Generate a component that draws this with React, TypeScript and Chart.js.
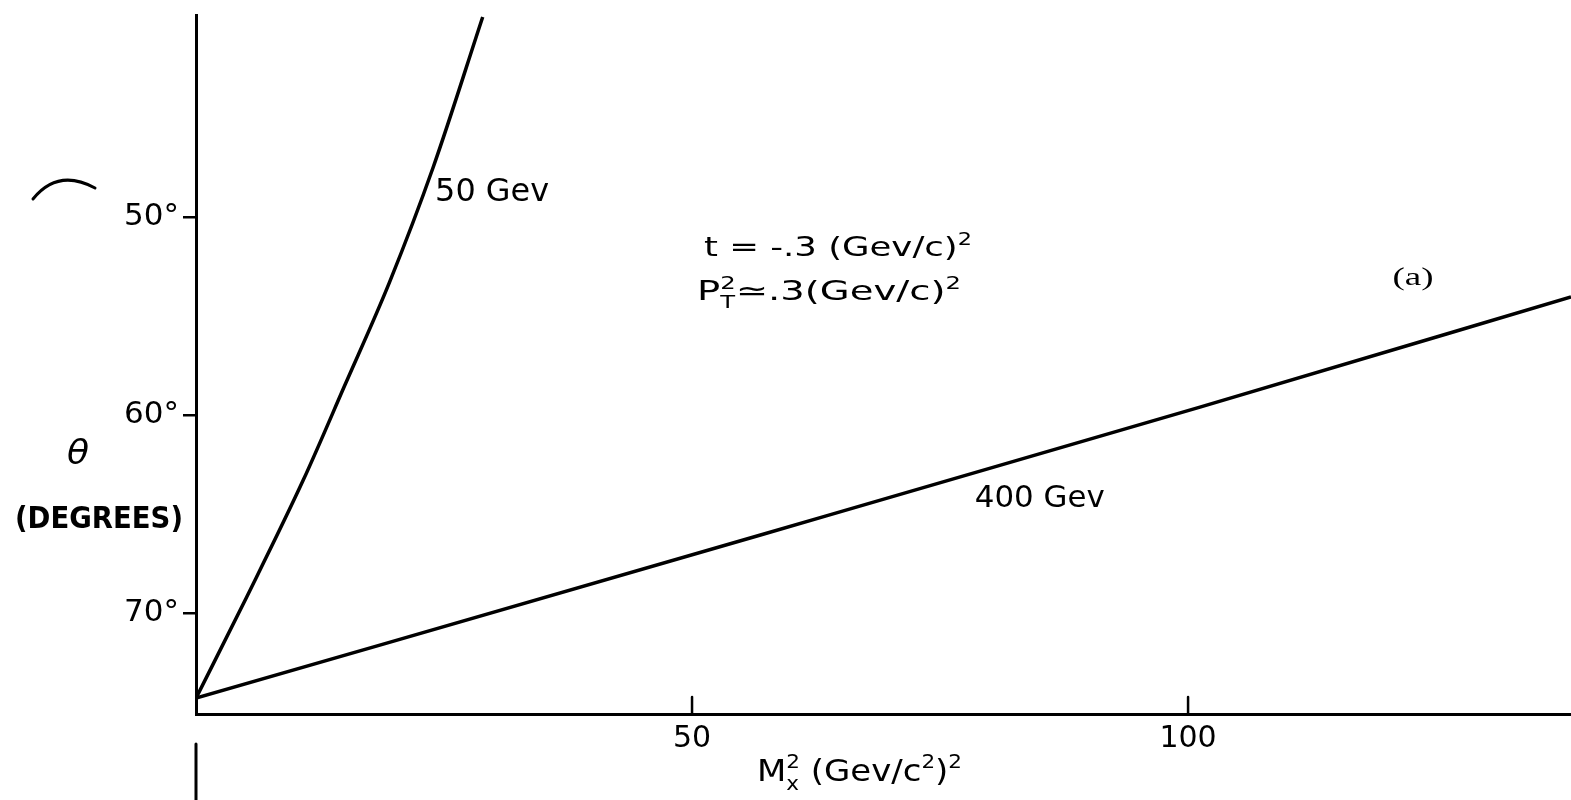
import { useEffect, useRef } from 'react';
import { Chart, registerables } from 'chart.js';

Chart.register(...registerables);

const FAMILY = '"DejaVu Sans", "Liberation Sans", sans-serif';

// 50 GeV curve: M_x^2 (GeV/c^2)^2 vs theta (degrees)
const massSq50 = [0, 5.1, 10.8, 15.0, 19.5, 23.9, 28.9];
const theta50 = [74.3, 69.2, 63.3, 58.5, 53.3, 47.5, 39.9];

// 400 GeV curve
const massSq400 = [0, 56.9, 101.2, 138.6];
const theta400 = [74.3, 66.06, 59.6, 54.04];

const xTickValues = [50, 100];
const yTickValues = [50, 60, 70];
const xMin = 0;
const xMax = 138.6;
const thetaTop = 39.8;
const thetaBottom = 75.1;

type Part = { t: string; kind?: 'sub' | 'sup'; stay?: boolean };

type Note = {
  parts: Part[];
  x: number; // data x (left edge)
  y: number; // data theta (vertical centre)
  size: number;
  width: number;
  family?: string;
  weight?: string;
  style?: string;
};

const notes: Note[] = [
  { parts: [{ t: '50 Gev' }], x: 24.1, y: 48.6, size: 32, width: 114 },
  { parts: [{ t: '400 Gev' }], x: 78.5, y: 64.1, size: 31, width: 130 },
  {
    parts: [{ t: 't = -.3 (Gev/c)' }, { t: '2', kind: 'sup' }],
    x: 51.2, y: 51.5, size: 27, width: 268,
  },
  {
    parts: [
      { t: 'P' },
      { t: 'T', kind: 'sub', stay: true },
      { t: '2', kind: 'sup' },
      { t: '\u2243.3(Gev/c)' },
      { t: '2', kind: 'sup' },
    ],
    x: 50.5, y: 53.7, size: 27, width: 264,
  },
  {
    parts: [{ t: '(a)' }], x: 120.6, y: 52.95, size: 26, width: 41,
    family: '"Liberation Serif", "DejaVu Serif", serif',
  },
];

function drawRich(
  ctx: CanvasRenderingContext2D,
  parts: Part[],
  left: number,
  centerY: number,
  size: number,
  targetWidth: number,
  family: string = FAMILY,
  weight: string = 'normal',
  style: string = 'normal'
) {
  const fontFor = (p: Part) =>
    `${style} ${weight} ${p.kind ? Math.round(size * 0.62) : size}px ${family}`;
  let natural = 0;
  const advs: number[] = [];
  for (const p of parts) {
    ctx.font = fontFor(p);
    const w = ctx.measureText(p.t).width;
    advs.push(w);
    if (!p.stay) natural += w;
  }
  const sx = targetWidth ? targetWidth / natural : 1;
  ctx.save();
  ctx.translate(left, centerY + size * 0.36);
  ctx.scale(sx, 1);
  ctx.textBaseline = 'alphabetic';
  ctx.textAlign = 'left';
  ctx.fillStyle = '#000';
  let x = 0;
  parts.forEach((p, i) => {
    ctx.font = fontFor(p);
    const dy = p.kind === 'sup' ? -size * 0.42 : p.kind === 'sub' ? size * 0.3 : 0;
    ctx.fillText(p.t, x, dy);
    if (!p.stay) x += advs[i];
  });
  ctx.restore();
}

const decorPlugin = {
  id: 'decor',
  afterDraw(chart: any) {
    const ctx: CanvasRenderingContext2D = chart.ctx;
    const xs = chart.scales.x;
    const ys = chart.scales.y;
    const area = chart.chartArea;
    ctx.save();
    ctx.strokeStyle = '#000';
    ctx.lineCap = 'round';

    // upward tick marks on the x axis
    ctx.lineWidth = 2.5;
    for (const v of xTickValues) {
      const px = xs.getPixelForValue(v);
      ctx.beginPath();
      ctx.moveTo(px, area.bottom);
      ctx.lineTo(px, area.bottom - 17);
      ctx.stroke();
    }

    // scan fragments: arc at left and segment below the axis
    ctx.lineWidth = 3;
    ctx.beginPath();
    ctx.moveTo(33, 199);
    ctx.quadraticCurveTo(58, 168, 95, 188);
    ctx.stroke();
    const x0 = xs.getPixelForValue(0);
    ctx.beginPath();
    ctx.moveTo(x0, 744);
    ctx.lineTo(x0, 800);
    ctx.stroke();

    // annotations
    for (const n of notes) {
      drawRich(
        ctx,
        n.parts,
        xs.getPixelForValue(n.x),
        ys.getPixelForValue(n.y),
        n.size,
        n.width,
        n.family,
        n.weight,
        n.style
      );
    }

    // y axis title
    drawRich(ctx, [{ t: '\u03b8' }], 67, 452, 34, 22, FAMILY, 'normal', 'italic');
    drawRich(ctx, [{ t: '(DEGREES)' }], 15, 517, 31, 168, FAMILY, 'bold');

    // x axis title
    drawRich(
      ctx,
      [
        { t: 'M' },
        { t: 'x', kind: 'sub', stay: true },
        { t: '2', kind: 'sup' },
        { t: ' (Gev/c' },
        { t: '2', kind: 'sup' },
        { t: ')' },
        { t: '2', kind: 'sup' },
      ],
      757,
      770,
      30,
      205
    );
    ctx.restore();
  },
};

export default function App() {
  const ref = useRef<HTMLCanvasElement | null>(null);

  useEffect(() => {
    if (!ref.current) return;
    const chart = new Chart(ref.current, {
      type: 'scatter',
      data: {
        datasets: [
          {
            label: '50 Gev',
            data: massSq50.map((x, i) => ({ x, y: theta50[i] })),
            showLine: true,
            borderColor: '#000',
            borderWidth: 3.5,
            pointRadius: 0,
            cubicInterpolationMode: 'monotone',
          },
          {
            label: '400 Gev',
            data: massSq400.map((x, i) => ({ x, y: theta400[i] })),
            showLine: true,
            borderColor: '#000',
            borderWidth: 3.5,
            pointRadius: 0,
            cubicInterpolationMode: 'monotone',
          },
        ],
      },
      options: {
        animation: false,
        responsive: false,
        layout: { padding: { top: 15, left: 0, right: 0, bottom: 0 } },
        plugins: { legend: { display: false }, tooltip: { enabled: false } },
        scales: {
          x: {
            type: 'linear',
            min: xMin,
            max: xMax,
            grid: { display: false },
            border: { display: true, color: '#000', width: 3 },
            ticks: {
              font: { family: FAMILY, size: 30, lineHeight: 1 },
              color: '#000',
              padding: 2,
              autoSkip: false,
              maxRotation: 0,
            },
            afterBuildTicks: (s: any) => {
              s.ticks = xTickValues.map((v) => ({ value: v }));
            },
            afterFit: (s: any) => {
              s.height = 86;
              s.paddingLeft = 0;
              s.paddingRight = 0;
            },
          },
          y: {
            type: 'linear',
            reverse: true,
            min: thetaTop,
            max: thetaBottom,
            grid: {
              display: true,
              drawOnChartArea: false,
              drawTicks: true,
              tickLength: 13,
              color: '#000',
              lineWidth: 2.5,
            },
            border: { display: true, color: '#000', width: 3 },
            ticks: {
              font: { family: FAMILY, size: 31 },
              color: '#000',
              padding: 4,
              callback: (v: any) => v + '\u00b0',
            },
            afterBuildTicks: (s: any) => {
              s.ticks = yTickValues.map((v) => ({ value: v }));
            },
            afterFit: (s: any) => {
              s.width = 196;
              s.paddingTop = 0;
              s.paddingBottom = 0;
            },
          },
        },
      } as any,
      plugins: [decorPlugin],
    });
    return () => chart.destroy();
  }, []);

  return (
    <div style={{ position: 'absolute', left: 0, top: 0, width: 1571, height: 800, background: '#fff' }}>
      <canvas ref={ref} width={1571} height={800} style={{ display: 'block' }} />
    </div>
  );
}
